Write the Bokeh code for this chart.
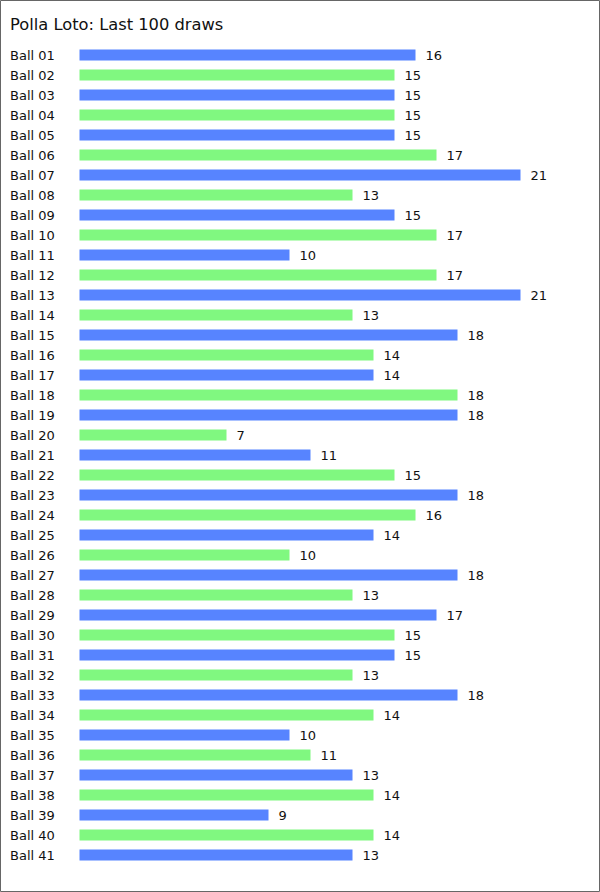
from bokeh.plotting import figure
from bokeh.models import ColumnDataSource, Range1d
from bokeh.core.properties import value
from bokeh.embed import file_html
from bokeh.resources import INLINE

title_text = "Polla Loto: Last 100 draws"
balls = ["Ball %02d" % i for i in range(1, 42)]
counts = [16, 15, 15, 15, 15, 17, 21, 13, 15, 17, 10, 17, 21, 13, 18, 14, 14, 18, 18, 7,
          11, 15, 18, 16, 14, 10, 18, 13, 17, 15, 15, 13, 18, 14, 10, 11, 13, 14, 9, 14, 13]
palette = ["#5784ff", "#80f880"]

W, H = 600, 892
PX_PER_UNIT = 21.0
LEFT = 79.0
ROW0 = 54.5
PITCH = 20.0

rows = list(range(len(balls)))
colors = [palette[i % 2] for i in rows]
src = ColumnDataSource(dict(
    y=rows, v=counts, name=balls, color=colors,
    vlabel=[str(c) for c in counts],
    lx=[(9.5 - LEFT) / PX_PER_UNIT] * len(balls),
))

p = figure(width=W, height=H, output_backend="svg", toolbar_location=None,
           x_range=Range1d(-LEFT / PX_PER_UNIT, (W - LEFT) / PX_PER_UNIT),
           y_range=Range1d((H - ROW0) / PITCH, -ROW0 / PITCH),
           min_border=0, x_axis_type=None, y_axis_type=None)
p.grid.visible = False
p.outline_line_color = "#666666"
p.outline_line_width = 1
p.background_fill_color = "white"
p.border_fill_color = "white"

p.hbar(y="y", left=0, right="v", height=0.55, color="color", line_color=None, source=src)

font = value("DejaVu Sans")
p.text(x="lx", y="y", text="name", source=src, text_font=font, text_font_size="13px",
       text_baseline="middle", text_align="left", text_color="#111111")
p.text(x="v", y="y", text="vlabel", source=src, text_font=font, text_font_size="13px",
       text_baseline="middle", text_align="left", text_color="#111111", x_offset=10)

p.text(x=[(9.5 - LEFT) / PX_PER_UNIT], y=[(23.5 - ROW0) / PITCH], text=[title_text],
       text_font=font, text_font_size="16.3px", text_baseline="middle",
       text_align="left", text_color="#111111")

open("out.html", "w").write(file_html(p, INLINE))
